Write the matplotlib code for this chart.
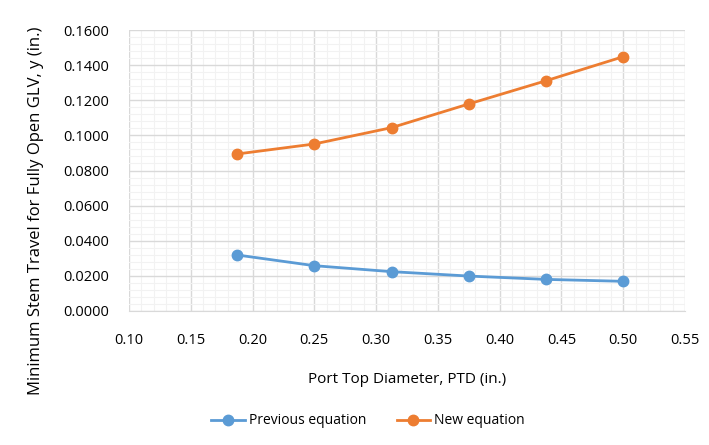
import matplotlib.pyplot as plt
from matplotlib.ticker import MultipleLocator, FormatStrFormatter

# port top diameters (in.)
ptd = [0.1875, 0.25, 0.3125, 0.375, 0.4375, 0.5]
previous_eq = [0.0319, 0.0258, 0.0224, 0.0199, 0.0180, 0.0169]
new_eq = [0.0894, 0.0951, 0.1044, 0.1179, 0.1311, 0.1448]

plt.rcParams['font.family'] = ['Open Sans', 'DejaVu Sans']

fig = plt.figure(figsize=(7.09, 4.45), dpi=100)
ax = fig.add_axes([129 / 709, 1 - 311 / 445, (685 - 129) / 709, (311 - 30) / 445])

ax.plot(ptd, previous_eq, color="#5B9BD5", lw=2, marker="o", ms=7.5, label="Previous equation", zorder=3)
ax.plot(ptd, new_eq, color="#ED7D31", lw=2, marker="o", ms=7.5, label="New equation", zorder=3)

ax.set_xlim(0.10, 0.55)
ax.set_ylim(0, 0.16)
ax.xaxis.set_major_locator(MultipleLocator(0.05))
ax.xaxis.set_minor_locator(MultipleLocator(0.01))
ax.yaxis.set_major_locator(MultipleLocator(0.02))
ax.yaxis.set_minor_locator(MultipleLocator(0.004))
ax.xaxis.set_major_formatter(FormatStrFormatter("%.2f"))
ax.yaxis.set_major_formatter(FormatStrFormatter("%.4f"))

ax.grid(which="major", color="#D9D9D9", lw=1)
ax.grid(which="minor", color="#F2F2F2", lw=0.8)
ax.set_axisbelow(True)
for s in ["top", "right", "left"]:
    ax.spines[s].set_visible(False)
ax.spines["bottom"].set_color("#D9D9D9")
ax.tick_params(which="both", length=0, labelsize=10.5, colors="#000000")
ax.tick_params(axis="x", pad=16)
ax.tick_params(axis="y", pad=14)

ax.set_xlabel("Port Top Diameter, PTD (in.)", fontsize=11, labelpad=17)
ax.set_ylabel("Minimum Stem Travel for Fully Open GLV, y (in.)", fontsize=12)
ax.yaxis.set_label_coords(-0.152, 0.355)

fig.legend(loc="center", bbox_to_anchor=(368 / 709, 1 - 421 / 445), ncol=2, frameon=False,
           fontsize=10, handlelength=2.4, columnspacing=2.2, handletextpad=0.3)

fig.savefig("out.png", dpi=100)
